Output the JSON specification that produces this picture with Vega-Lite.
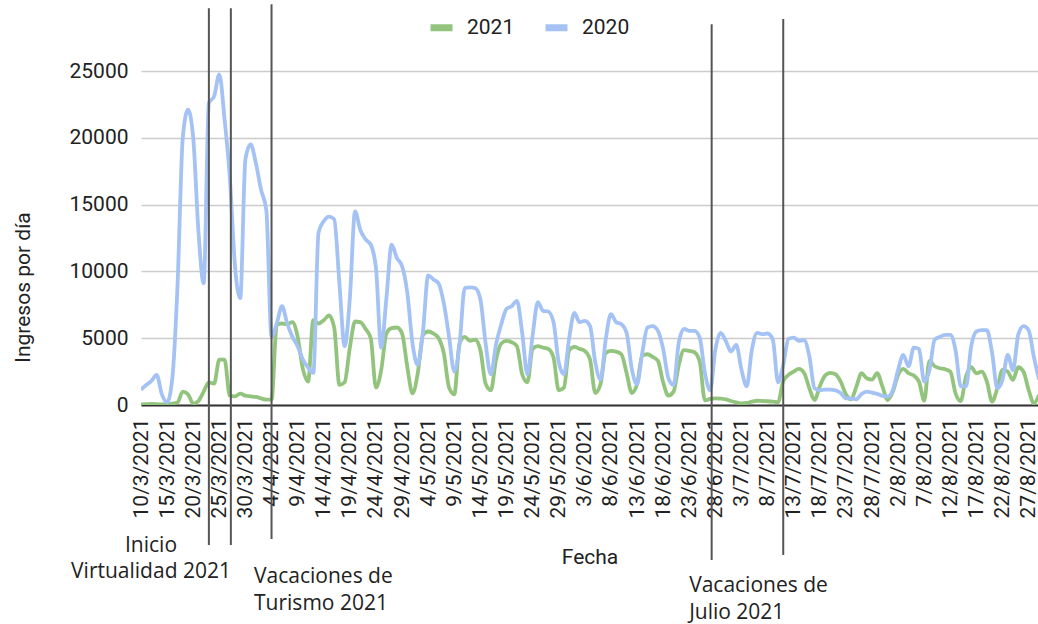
{
  "$schema": "https://vega.github.io/schema/vega-lite/v6.json",
  "width": 897,
  "height": 334,
  "autosize": {"type": "none"},
  "padding": {"left": 141, "top": 71, "right": 0, "bottom": 219},
  "background": "white",
  "config": {
    "view": {"stroke": null},
    "font": "Roboto",
    "axis": {"labelOverlap": false, "labelSeparation": 0},
    "text": {"font": "Open Sans", "fontSize": 21, "color": "#222222"}
  },
  "datasets": {
    "daily": [
      {"date":"2021-03-10","2021":50,"2020":1150},
      {"date":"2021-03-11","2021":60,"2020":1500},
      {"date":"2021-03-12","2021":80,"2020":1800},
      {"date":"2021-03-13","2021":60,"2020":2250},
      {"date":"2021-03-14","2021":40,"2020":800},
      {"date":"2021-03-15","2021":50,"2020":200},
      {"date":"2021-03-16","2021":100,"2020":2000},
      {"date":"2021-03-17","2021":200,"2020":9000},
      {"date":"2021-03-18","2021":1000,"2020":20000},
      {"date":"2021-03-19","2021":800,"2020":22100},
      {"date":"2021-03-20","2021":100,"2020":20000},
      {"date":"2021-03-21","2021":300,"2020":13000},
      {"date":"2021-03-22","2021":1000,"2020":9100},
      {"date":"2021-03-23","2021":1700,"2020":22600},
      {"date":"2021-03-24","2021":1600,"2020":23100},
      {"date":"2021-03-25","2021":3400,"2020":24750},
      {"date":"2021-03-26","2021":3400,"2020":21400},
      {"date":"2021-03-27","2021":700,"2020":17100},
      {"date":"2021-03-28","2021":650,"2020":10400},
      {"date":"2021-03-29","2021":850,"2020":8000},
      {"date":"2021-03-30","2021":700,"2020":18400},
      {"date":"2021-03-31","2021":650,"2020":19500},
      {"date":"2021-04-01","2021":600,"2020":18100},
      {"date":"2021-04-02","2021":500,"2020":16100},
      {"date":"2021-04-03","2021":400,"2020":14600},
      {"date":"2021-04-04","2021":400,"2020":5100},
      {"date":"2021-04-05","2021":6000,"2020":6100},
      {"date":"2021-04-06","2021":6100,"2020":7400},
      {"date":"2021-04-07","2021":6050,"2020":6100},
      {"date":"2021-04-08","2021":6200,"2020":5100},
      {"date":"2021-04-09","2021":5100,"2020":4400},
      {"date":"2021-04-10","2021":2700,"2020":3400},
      {"date":"2021-04-11","2021":1750,"2020":2800},
      {"date":"2021-04-12","2021":6350,"2020":2400},
      {"date":"2021-04-13","2021":6100,"2020":12900},
      {"date":"2021-04-14","2021":6350,"2020":13750},
      {"date":"2021-04-15","2021":6700,"2020":14100},
      {"date":"2021-04-16","2021":5800,"2020":13900},
      {"date":"2021-04-17","2021":1500,"2020":9100},
      {"date":"2021-04-18","2021":1700,"2020":4400},
      {"date":"2021-04-19","2021":4300,"2020":8000},
      {"date":"2021-04-20","2021":6250,"2020":14500},
      {"date":"2021-04-21","2021":6200,"2020":13100},
      {"date":"2021-04-22","2021":5700,"2020":12400},
      {"date":"2021-04-23","2021":5000,"2020":12000},
      {"date":"2021-04-24","2021":1300,"2020":10250},
      {"date":"2021-04-25","2021":2600,"2020":4300},
      {"date":"2021-04-26","2021":5350,"2020":8000},
      {"date":"2021-04-27","2021":5750,"2020":12000},
      {"date":"2021-04-28","2021":5800,"2020":11000},
      {"date":"2021-04-29","2021":5350,"2020":10400},
      {"date":"2021-04-30","2021":2850,"2020":8400},
      {"date":"2021-05-01","2021":870,"2020":4600},
      {"date":"2021-05-02","2021":2370,"2020":3000},
      {"date":"2021-05-03","2021":5250,"2020":5500},
      {"date":"2021-05-04","2021":5500,"2020":9700},
      {"date":"2021-05-05","2021":5350,"2020":9400},
      {"date":"2021-05-06","2021":5000,"2020":9100},
      {"date":"2021-05-07","2021":3870,"2020":7600},
      {"date":"2021-05-08","2021":1300,"2020":5100},
      {"date":"2021-05-09","2021":800,"2020":2500},
      {"date":"2021-05-10","2021":4600,"2020":4500},
      {"date":"2021-05-11","2021":5100,"2020":8750},
      {"date":"2021-05-12","2021":4800,"2020":8800},
      {"date":"2021-05-13","2021":4900,"2020":8750},
      {"date":"2021-05-14","2021":4100,"2020":7900},
      {"date":"2021-05-15","2021":1600,"2020":4600},
      {"date":"2021-05-16","2021":1100,"2020":2300},
      {"date":"2021-05-17","2021":3400,"2020":4550},
      {"date":"2021-05-18","2021":4600,"2020":6050},
      {"date":"2021-05-19","2021":4800,"2020":7200},
      {"date":"2021-05-20","2021":4700,"2020":7400},
      {"date":"2021-05-21","2021":4400,"2020":7800},
      {"date":"2021-05-22","2021":2300,"2020":5400},
      {"date":"2021-05-23","2021":1700,"2020":2300},
      {"date":"2021-05-24","2021":4200,"2020":5200},
      {"date":"2021-05-25","2021":4400,"2020":7700},
      {"date":"2021-05-26","2021":4300,"2020":7050},
      {"date":"2021-05-27","2021":4200,"2020":7000},
      {"date":"2021-05-28","2021":3550,"2020":6200},
      {"date":"2021-05-29","2021":1100,"2020":3200},
      {"date":"2021-05-30","2021":1300,"2020":2300},
      {"date":"2021-05-31","2021":4100,"2020":5000},
      {"date":"2021-06-01","2021":4350,"2020":6900},
      {"date":"2021-06-02","2021":4200,"2020":6200},
      {"date":"2021-06-03","2021":4050,"2020":6300},
      {"date":"2021-06-04","2021":3400,"2020":5900},
      {"date":"2021-06-05","2021":900,"2020":3200},
      {"date":"2021-06-06","2021":1550,"2020":1900},
      {"date":"2021-06-07","2021":3900,"2020":4900},
      {"date":"2021-06-08","2021":4050,"2020":6800},
      {"date":"2021-06-09","2021":4000,"2020":6200},
      {"date":"2021-06-10","2021":3800,"2020":6050},
      {"date":"2021-06-11","2021":2400,"2020":5400},
      {"date":"2021-06-12","2021":900,"2020":2700},
      {"date":"2021-06-13","2021":1550,"2020":1550},
      {"date":"2021-06-14","2021":3700,"2020":3900},
      {"date":"2021-06-15","2021":3800,"2020":5800},
      {"date":"2021-06-16","2021":3600,"2020":5900},
      {"date":"2021-06-17","2021":3300,"2020":5550},
      {"date":"2021-06-18","2021":1700,"2020":4200},
      {"date":"2021-06-19","2021":700,"2020":2000},
      {"date":"2021-06-20","2021":1000,"2020":1500},
      {"date":"2021-06-21","2021":3000,"2020":4700},
      {"date":"2021-06-22","2021":4100,"2020":5700},
      {"date":"2021-06-23","2021":4050,"2020":5550},
      {"date":"2021-06-24","2021":3950,"2020":5550},
      {"date":"2021-06-25","2021":3250,"2020":5050},
      {"date":"2021-06-26","2021":350,"2020":2400},
      {"date":"2021-06-27","2021":450,"2020":1100},
      {"date":"2021-06-28","2021":500,"2020":4150},
      {"date":"2021-06-29","2021":480,"2020":5400},
      {"date":"2021-06-30","2021":420,"2020":4800},
      {"date":"2021-07-01","2021":300,"2020":4000},
      {"date":"2021-07-02","2021":200,"2020":4500},
      {"date":"2021-07-03","2021":120,"2020":2650},
      {"date":"2021-07-04","2021":150,"2020":1400},
      {"date":"2021-07-05","2021":250,"2020":4150},
      {"date":"2021-07-06","2021":320,"2020":5400},
      {"date":"2021-07-07","2021":300,"2020":5300},
      {"date":"2021-07-08","2021":280,"2020":5350},
      {"date":"2021-07-09","2021":250,"2020":4900},
      {"date":"2021-07-10","2021":200,"2020":1700},
      {"date":"2021-07-11","2021":1800,"2020":3000},
      {"date":"2021-07-12","2021":2250,"2020":4950},
      {"date":"2021-07-13","2021":2500,"2020":5050},
      {"date":"2021-07-14","2021":2700,"2020":4800},
      {"date":"2021-07-15","2021":2400,"2020":4850},
      {"date":"2021-07-16","2021":1250,"2020":3650},
      {"date":"2021-07-17","2021":375,"2020":1250},
      {"date":"2021-07-18","2021":1400,"2020":1100},
      {"date":"2021-07-19","2021":2200,"2020":1150},
      {"date":"2021-07-20","2021":2400,"2020":1150},
      {"date":"2021-07-21","2021":2300,"2020":1100},
      {"date":"2021-07-22","2021":1750,"2020":900},
      {"date":"2021-07-23","2021":800,"2020":500},
      {"date":"2021-07-24","2021":420,"2020":500},
      {"date":"2021-07-25","2021":1375,"2020":430},
      {"date":"2021-07-26","2021":2375,"2020":830},
      {"date":"2021-07-27","2021":2000,"2020":1000},
      {"date":"2021-07-28","2021":1900,"2020":930},
      {"date":"2021-07-29","2021":2375,"2020":830},
      {"date":"2021-07-30","2021":1375,"2020":680},
      {"date":"2021-07-31","2021":375,"2020":630},
      {"date":"2021-08-01","2021":1000,"2020":1130},
      {"date":"2021-08-02","2021":2250,"2020":2630},
      {"date":"2021-08-03","2021":2700,"2020":3750},
      {"date":"2021-08-04","2021":2375,"2020":2900},
      {"date":"2021-08-05","2021":2200,"2020":4300},
      {"date":"2021-08-06","2021":1750,"2020":4200},
      {"date":"2021-08-07","2021":325,"2020":1750},
      {"date":"2021-08-08","2021":3300,"2020":2600},
      {"date":"2021-08-09","2021":2900,"2020":4900},
      {"date":"2021-08-10","2021":2750,"2020":5100},
      {"date":"2021-08-11","2021":2675,"2020":5250},
      {"date":"2021-08-12","2021":2500,"2020":5250},
      {"date":"2021-08-13","2021":875,"2020":4100},
      {"date":"2021-08-14","2021":300,"2020":1400},
      {"date":"2021-08-15","2021":2125,"2020":1400},
      {"date":"2021-08-16","2021":2825,"2020":4400},
      {"date":"2021-08-17","2021":2375,"2020":5500},
      {"date":"2021-08-18","2021":2500,"2020":5600},
      {"date":"2021-08-19","2021":1750,"2020":5600},
      {"date":"2021-08-20","2021":250,"2020":3900},
      {"date":"2021-08-21","2021":1250,"2020":1250},
      {"date":"2021-08-22","2021":2625,"2020":1900},
      {"date":"2021-08-23","2021":2500,"2020":3750},
      {"date":"2021-08-24","2021":1875,"2020":2600},
      {"date":"2021-08-25","2021":2825,"2020":5250},
      {"date":"2021-08-26","2021":2500,"2020":5900},
      {"date":"2021-08-27","2021":1125,"2020":5600},
      {"date":"2021-08-28","2021":125,"2020":3600},
      {"date":"2021-08-29","2021":750,"2020":1900}
    ],
    "rules": [
      {"date":"2021-03-23T00:00:00Z","top":29700,"bottom":-10480},
      {"date":"2021-03-27T05:00:00Z","top":29700,"bottom":-10480},
      {"date":"2021-04-04T00:00:00Z","top":30000,"bottom":-10030},
      {"date":"2021-06-27T07:00:00Z","top":28500,"bottom":-11600},
      {"date":"2021-07-11T00:00:00Z","top":28900,"bottom":-11230}
    ],
    "notes": [
      {"date":"2021-03-11T22:00:00Z","value":-10554,"text":"Inicio","align":"center"},
      {"date":"2021-03-11T22:00:00Z","value":-12500,"text":"Virtualidad 2021","align":"center"},
      {"date":"2021-03-31T15:36:00Z","value":-12874,"text":"Vacaciones de","align":"left"},
      {"date":"2021-03-31T15:36:00Z","value":-14895,"text":"Turismo 2021","align":"left"},
      {"date":"2021-06-22T23:30:00Z","value":-13548,"text":"Vacaciones de","align":"left"},
      {"date":"2021-06-22T23:30:00Z","value":-15569,"text":"Julio 2021","align":"left"}
    ]
  },
  "layer": [
    {
      "data": {"name": "daily"},
      "transform": [
        {"fold": ["2021", "2020"], "as": ["serie", "value"]},
        {"filter": "datum.serie === '2021'"}
      ],
      "mark": {"type": "line", "interpolate": "monotone", "strokeWidth": 3.8, "clip": true},
      "encoding": {
        "x": {
          "field": "date", "type": "temporal",
          "scale": {"type": "utc", "domain": [{"year":2021,"month":3,"date":10,"utc":true},{"year":2021,"month":8,"date":28,"hours":19,"utc":true}]},
          "axis": {
            "title": "Fecha",
            "titleFont": "Roboto", "titleFontSize": 21, "titleFontWeight": "normal", "titleColor": "#222222", "titlePadding": 29,
            "tickCount": 200,
            "values": [
              {"year":2021,"month":3,"date":10,"utc":true},{"year":2021,"month":3,"date":15,"utc":true},{"year":2021,"month":3,"date":20,"utc":true},{"year":2021,"month":3,"date":25,"utc":true},{"year":2021,"month":3,"date":30,"utc":true},
              {"year":2021,"month":4,"date":4,"utc":true},{"year":2021,"month":4,"date":9,"utc":true},{"year":2021,"month":4,"date":14,"utc":true},{"year":2021,"month":4,"date":19,"utc":true},{"year":2021,"month":4,"date":24,"utc":true},{"year":2021,"month":4,"date":29,"utc":true},
              {"year":2021,"month":5,"date":4,"utc":true},{"year":2021,"month":5,"date":9,"utc":true},{"year":2021,"month":5,"date":14,"utc":true},{"year":2021,"month":5,"date":19,"utc":true},{"year":2021,"month":5,"date":24,"utc":true},{"year":2021,"month":5,"date":29,"utc":true},
              {"year":2021,"month":6,"date":3,"utc":true},{"year":2021,"month":6,"date":8,"utc":true},{"year":2021,"month":6,"date":13,"utc":true},{"year":2021,"month":6,"date":18,"utc":true},{"year":2021,"month":6,"date":23,"utc":true},{"year":2021,"month":6,"date":28,"utc":true},
              {"year":2021,"month":7,"date":3,"utc":true},{"year":2021,"month":7,"date":8,"utc":true},{"year":2021,"month":7,"date":13,"utc":true},{"year":2021,"month":7,"date":18,"utc":true},{"year":2021,"month":7,"date":23,"utc":true},{"year":2021,"month":7,"date":28,"utc":true},
              {"year":2021,"month":8,"date":2,"utc":true},{"year":2021,"month":8,"date":7,"utc":true},{"year":2021,"month":8,"date":12,"utc":true},{"year":2021,"month":8,"date":17,"utc":true},{"year":2021,"month":8,"date":22,"utc":true},{"year":2021,"month":8,"date":27,"utc":true}
            ],
            "labelExpr": "utcFormat(datum.value, '%-d/%-m/%Y')",
            "labelAngle": 270,
            "labelFont": "Roboto", "labelFontSize": 21, "labelColor": "#222222",
            "labelPadding": 13, "labelOverlap": false, "labelSeparation": 0, "labelFlush": false, "labelBound": false,
            "ticks": false, "grid": false,
            "domain": true, "domainColor": "#333333", "domainWidth": 2
          }
        },
        "y": {
          "field": "value", "type": "quantitative",
          "scale": {"domain": [0, 25000], "nice": false, "zero": false},
          "axis": {
            "title": "Ingresos por día",
            "titleFont": "Roboto", "titleFontSize": 21, "titleFontWeight": "normal", "titleColor": "#222222",
            "titleX": -118, "titleY": 216, "titleAngle": 270, "titleAlign": "center", "titleBaseline": "middle",
            "values": [0, 5000, 10000, 15000, 20000, 25000],
            "format": "d",
            "labelFont": "Roboto", "labelFontSize": 21, "labelColor": "#222222", "labelPadding": 13,
            "ticks": false, "domain": false,
            "grid": true, "gridColor": "#cccccc", "gridWidth": 1.5
          }
        },
        "color": {
          "field": "serie", "type": "nominal",
          "scale": {"domain": ["2021", "2020"], "range": ["#93c47d", "#a4c2f4"]},
          "legend": {
            "title": null, "orient": "none", "direction": "horizontal",
            "legendX": 286, "legendY": -58, "padding": 0,
            "symbolType": "stroke", "symbolSize": 484, "symbolStrokeWidth": 7,
            "labelFont": "Roboto", "labelFontSize": 21, "labelColor": "#222222",
            "labelOffset": 11, "columnPadding": 16,
            "encode": {"symbols": {"update": {"strokeWidth": {"value": 7}}}}
          }
        }
      }
    },
    {
      "data": {"name": "daily"},
      "transform": [
        {"fold": ["2021", "2020"], "as": ["serie", "value"]},
        {"filter": "datum.serie === '2020'"}
      ],
      "mark": {"type": "line", "interpolate": "monotone", "strokeWidth": 3.8, "clip": true},
      "encoding": {
        "x": {"field": "date", "type": "temporal"},
        "y": {"field": "value", "type": "quantitative"},
        "color": {"field": "serie", "type": "nominal"}
      }
    },
    {
      "data": {"name": "rules"},
      "mark": {"type": "rule", "color": "#555555", "strokeWidth": 2, "clip": false},
      "encoding": {
        "x": {"field": "date", "type": "temporal"},
        "y": {"field": "top", "type": "quantitative"},
        "y2": {"field": "bottom"}
      }
    },
    {
      "data": {"name": "notes"},
      "transform": [{"filter": "datum.align === 'center'"}],
      "mark": {"type": "text", "align": "center", "baseline": "middle"},
      "encoding": {
        "x": {"field": "date", "type": "temporal"},
        "y": {"field": "value", "type": "quantitative"},
        "text": {"field": "text"}
      }
    },
    {
      "data": {"name": "notes"},
      "transform": [{"filter": "datum.align === 'left'"}],
      "mark": {"type": "text", "align": "left", "baseline": "middle"},
      "encoding": {
        "x": {"field": "date", "type": "temporal"},
        "y": {"field": "value", "type": "quantitative"},
        "text": {"field": "text"}
      }
    }
  ]
}
